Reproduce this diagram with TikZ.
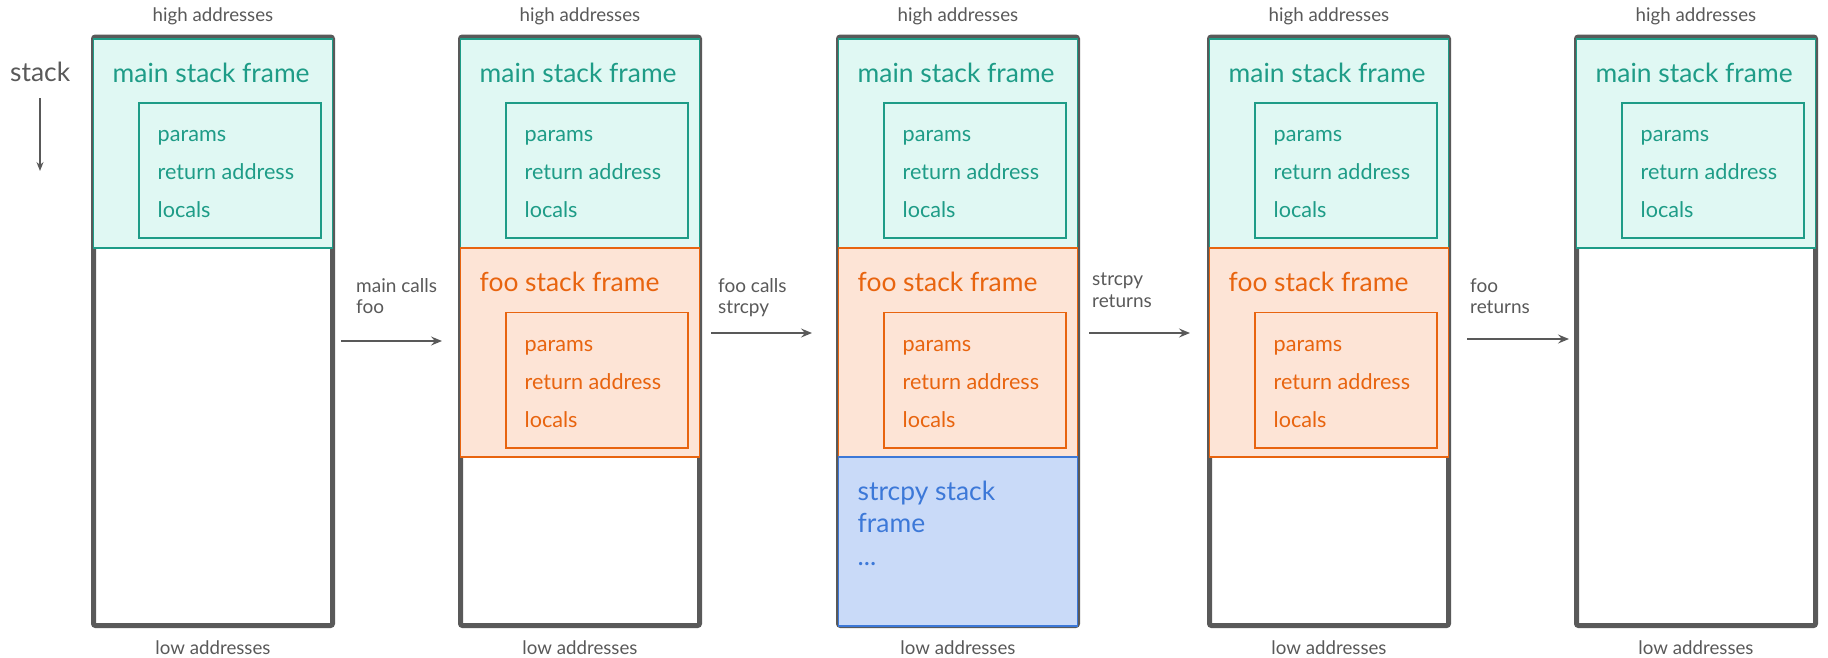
\documentclass[tikz,border=0pt]{standalone}
\usepackage{fontspec}
\setmainfont{Lato}
\usetikzlibrary{arrows.meta}

\definecolor{tealline}{HTML}{1E9C87}
\definecolor{tealfill}{HTML}{E0F8F3}
\definecolor{orangeline}{HTML}{E8640F}
\definecolor{orangefill}{HTML}{FDE4D6}
\definecolor{blueline}{HTML}{3C78D8}
\definecolor{bluefill}{HTML}{C9DAF8}
\definecolor{inkgray}{HTML}{595959}

\tikzset{
  stackbox/.style={draw=inkgray, line width=5pt, rounded corners=2pt},
  mainbox/.style={draw=tealline, fill=tealfill, line width=1.7pt},
  mainrec/.style={draw=tealline, line width=1.5pt},
  foobox/.style={draw=orangeline, fill=orangefill, line width=1.7pt},
  foorec/.style={draw=orangeline, line width=1.5pt},
  strbox/.style={draw=blueline, fill=bluefill, line width=1.7pt},
  title/.style={anchor=base west, inner sep=0pt, font=\fontsize{26.4}{32}\selectfont},
  entry/.style={anchor=base west, inner sep=0pt, font=\fontsize{21.6}{26}\selectfont},
  addr/.style={anchor=base, inner sep=0pt, text=inkgray, font=\fontsize{18.7}{23}\selectfont},
  steplabel/.style={anchor=base west, inner sep=0pt, text=inkgray, font=\fontsize{19}{23}\selectfont},
  steparrow/.style={draw=inkgray, line width=1.7pt, -{Stealth[length=11pt,width=9pt,inset=4pt]}},
}

% outer stack column with its address labels; #1 = left x, #2 = name
\newcommand\stackcolumn[2]{%
  \draw[stackbox] (#1,37) rectangle (#1+239,625.5);
  \node[addr] (#2-high) at (#1+119.5,21) {high addresses};
  \node[addr] (#2-low) at (#1+119.5,654) {low addresses};
}
% frame of main at the top of a column
\newcommand\mainframe[2]{%
  \draw[mainbox] (#1,39) rectangle (#1+239,248);
  \node[title, text=tealline] (#2-maint) at (#1+19,82.5) {main stack frame};
  \draw[mainrec] (#1+45.5,103) rectangle (#1+227.5,238);
  \node[entry, text=tealline] (#2-mp) at (#1+64,141) {params};
  \node[entry, text=tealline] (#2-mr) at (#1+64,179) {return address};
  \node[entry, text=tealline] (#2-ml) at (#1+64,217) {locals};
}
% frame of foo below main
\newcommand\fooframe[2]{%
  \draw[foobox] (#1,248) rectangle (#1+239,457);
  \node[title, text=orangeline] (#2-foot) at (#1+19,291) {foo stack frame};
  \draw[foorec] (#1+45.5,312.5) rectangle (#1+227.5,448);
  \node[entry, text=orangeline] (#2-fp) at (#1+64,351) {params};
  \node[entry, text=orangeline] (#2-fr) at (#1+64,389) {return address};
  \node[entry, text=orangeline] (#2-fl) at (#1+64,427) {locals};
}

\begin{document}
\begin{tikzpicture}[x=1pt, y=-1pt]
  \useasboundingbox (0,0) rectangle (1828,657);

  % direction of growth
  \node[title, text=inkgray] (growth) at (10,81.5) {stack};
  \coordinate (growtop) at (40,98);
  \coordinate (growbot) at (40,171);
  \draw[draw=inkgray, line width=1.3pt, -{Stealth[length=9pt,width=7pt,inset=3pt]}] (growtop) -- (growbot);

  % column 1: only main
  \stackcolumn{93.5}{c1}
  \mainframe{93.5}{c1}

  % column 2: main calls foo
  \stackcolumn{460.5}{c2}
  \mainframe{460.5}{c2}
  \fooframe{460.5}{c2}

  % column 3: foo calls strcpy
  \stackcolumn{838.5}{c3}
  \mainframe{838.5}{c3}
  \fooframe{838.5}{c3}
  \draw[strbox] (838.5,457) rectangle (838.5+239,626);
  \node[title, text=blueline] (c3-st1) at (857.5,500.5) {strcpy stack};
  \node[title, text=blueline] (c3-st2) at (857.5,532.5) {frame};
  \node[title, text=blueline] (c3-st3) at (857.5,565) {...};

  % column 4: strcpy has returned
  \stackcolumn{1209.5}{c4}
  \mainframe{1209.5}{c4}
  \fooframe{1209.5}{c4}

  % column 5: foo has returned
  \stackcolumn{1576.5}{c5}
  \mainframe{1576.5}{c5}

  % transitions
  \coordinate (a1s) at (341,341);  \coordinate (a1e) at (442,341);
  \coordinate (a2s) at (711,333);  \coordinate (a2e) at (812,333);
  \coordinate (a3s) at (1089,333); \coordinate (a3e) at (1190,333);
  \coordinate (a4s) at (1467,339); \coordinate (a4e) at (1569,339);
  \draw[steparrow] (a1s) -- (a1e);
  \draw[steparrow] (a2s) -- (a2e);
  \draw[steparrow] (a3s) -- (a3e);
  \draw[steparrow] (a4s) -- (a4e);

  \node[steplabel] (l1a) at (356,292) {main calls};
  \node[steplabel] (l1b) at (356,313) {foo};
  \node[steplabel] (l2a) at (718,292) {foo calls};
  \node[steplabel] (l2b) at (718,313) {strcpy};
  \node[steplabel] (l3a) at (1092,285) {strcpy};
  \node[steplabel] (l3b) at (1092,307) {returns};
  \node[steplabel] (l4a) at (1470,292) {foo};
  \node[steplabel] (l4b) at (1470,313) {returns};
\end{tikzpicture}
\end{document}
